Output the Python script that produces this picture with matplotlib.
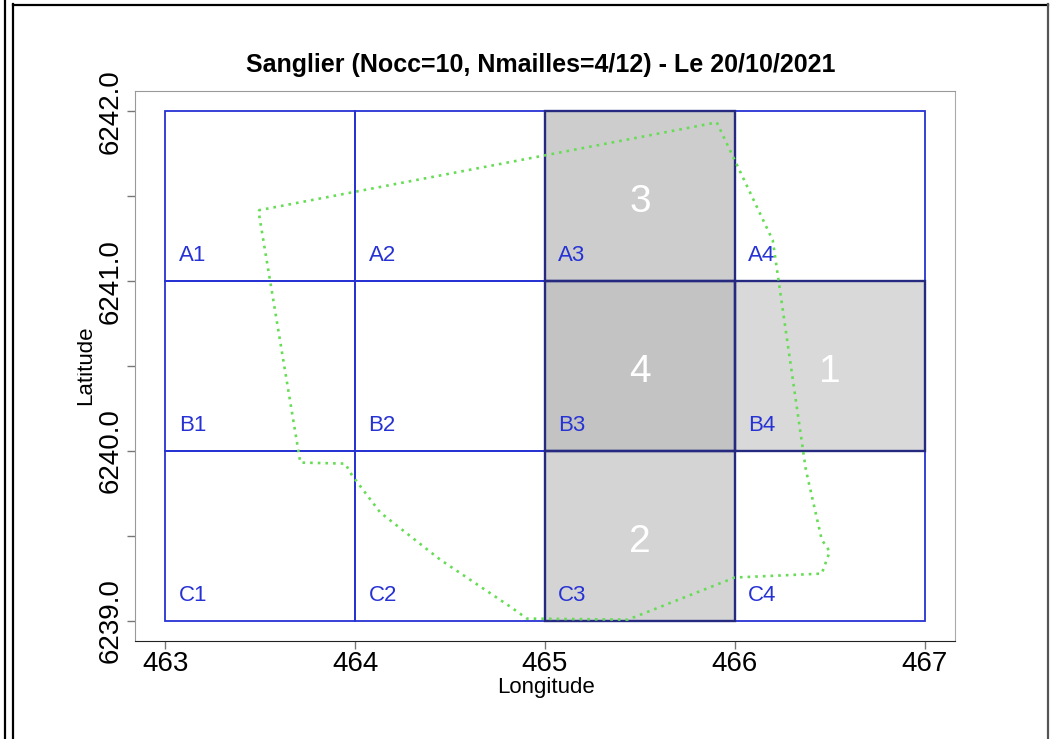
import matplotlib.pyplot as plt
import numpy as np
from matplotlib.patches import Rectangle
from matplotlib.lines import Line2D
from matplotlib.transforms import Bbox

plt.rcParams['font.family'] = ['Liberation Sans', 'DejaVu Sans']

# grid of cells (lower-left corners)
col_x = [463, 464, 465, 466]
row_y = [6241, 6240, 6239]
row_names = ["A", "B", "C"]

# occupied cells and number of occurrences
occ_cells = ["A3", "B3", "B4", "C3"]
occ_counts = [3, 4, 1, 2]
occ_grays = ["#cdcdcd", "#c3c3c3", "#d9d9d9", "#d4d4d4"]

# commune outline (dotted green)
poly_x = [463.49, 465.905, 466.20, 466.374, 466.458, 466.50, 466.458, 466.00,
          465.437, 464.905, 464.816, 464.447, 464.132, 463.984, 463.947, 463.711]
poly_y = [6241.417, 6241.935, 6241.240, 6239.890, 6239.477, 6239.407, 6239.277,
          6239.254, 6239.006, 6239.012, 6239.083, 6239.360, 6239.637, 6239.855,
          6239.925, 6239.931]

title = "Sanglier (Nocc=10, Nmailles=4/12) - Le 20/10/2021"

fig = plt.figure(figsize=(10.51, 7.39), dpi=100)
ax = fig.add_axes([135/1051, 98/739, 820/1051, 550/739])

blue = "#2632d4"
navy = "#252a80"

for i, y0 in enumerate(row_y):
    for j, x0 in enumerate(col_x):
        ax.add_patch(Rectangle((x0, y0), 1, 1, fill=False, ec=blue, lw=1.3, zorder=2))
        ax.text(x0 + 0.07, y0 + 0.15, f"{row_names[i]}{j+1}", color=blue,
                fontsize=16, ha="left", va="center", zorder=5)

for name, n, g in zip(occ_cells, occ_counts, occ_grays):
    i = row_names.index(name[0])
    j = int(name[1]) - 1
    x0, y0 = col_x[j], row_y[i]
    ax.add_patch(Rectangle((x0, y0), 1, 1, fc=g, ec="none", zorder=1))
    ax.add_patch(Rectangle((x0, y0), 1, 1, fill=False, ec=navy, lw=1.7, zorder=3))
    ax.text(x0 + 0.5, y0 + 0.465, str(n), color="white", fontsize=28,
            ha="center", va="center", zorder=5)

px = poly_x + poly_x[:1]
py = poly_y + poly_y[:1]
ax.plot(px, py, color="#66dd55", lw=1.9, ls=(0, (1, 1.9)), zorder=4)

ax.set_xlim(462.84, 467.16)
ax.set_ylim(6238.88, 6242.12)
ax.set_xticks([463, 464, 465, 466, 467])
ax.set_yticks([6239, 6240, 6241, 6242])
ax.set_yticks([6239.5, 6240.5, 6241.5], minor=True)
ax.set_yticklabels([f"{v:.1f}" for v in [6239, 6240, 6241, 6242]],
                   rotation=90, va="center")
ax.tick_params(axis="both", which="both", direction="out", length=6,
               width=1, color="#777777", labelsize=20, pad=2)
ax.tick_params(axis="x", pad=1)

for s in ["left", "top"]:
    ax.spines[s].set_color("#999999")
ax.spines["right"].set_color("#aaaaaa")
ax.spines["bottom"].set_color("#222222")

fig.text(541/1051, 1 - 65/739, title, fontsize=18, fontweight="bold",
         ha="center", va="center")
fig.text(546/1051, 1 - 688/739, "Longitude", fontsize=16, ha="center", va="center")
ylab = fig.text(86/1051, 1 - 365/739, "Latitude", fontsize=16, rotation=90,
                ha="center", va="center")
ylab.set_clip_box(Bbox.from_extents(77, 0, 1051, 739))
ylab.set_clip_on(True)

# page frame
W, H = 1051, 739
for (x0, y0, x1, y1, c) in [(4.5, 0, 4.5, H, "black"), (12.5, 0, 12.5, H - 4, "black"),
                            (12.5, H - 4.5, 1048, H - 4.5, "black"),
                            (1048, H - 4, 1048, 0, "#555555")]:
    fig.add_artist(Line2D([x0 / W, x1 / W], [y0 / H, y1 / H], color=c, lw=1.6,
                          transform=fig.transFigure))

fig.savefig("out.png", dpi=100)
